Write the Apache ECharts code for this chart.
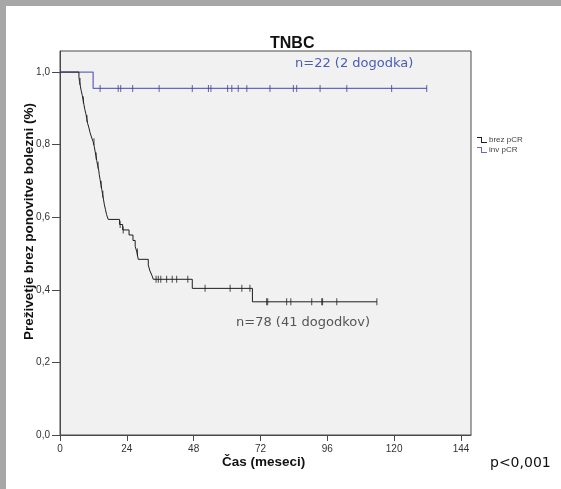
<!DOCTYPE html>
<html>
<head>
<meta charset="utf-8">
<script src="https://cdn.jsdelivr.net/npm/echarts@6/dist/echarts.min.js"></script>
<style>html,body{margin:0;padding:0;background:#fff;}#c{width:561px;height:489px;}</style>
</head>
<body>
<div id="c"></div>
<script>
// ---- data ----
const xTicks = [0, 24, 48, 72, 96, 120, 144];
const yTicks = [0, 0.2, 0.4, 0.6, 0.8, 1.0];
const seriesNames = ['brez pCR', 'inv pCR'];
// Kaplan-Meier steps [months, survival after event]
const brezSteps = [
  [0, 1.0], [6.8, 0.987], [7.0, 0.974], [7.3, 0.962], [7.6, 0.949], [8.0, 0.936], [8.3, 0.923],
  [8.6, 0.910], [8.9, 0.897], [9.3, 0.885], [9.6, 0.872], [9.9, 0.859], [10.4, 0.846],
  [10.8, 0.833], [11.3, 0.821], [11.9, 0.808], [12.3, 0.795], [12.6, 0.782], [12.9, 0.769],
  [13.2, 0.756], [13.5, 0.743], [13.9, 0.730], [14.1, 0.717], [14.4, 0.704], [14.7, 0.690],
  [15.0, 0.677], [15.3, 0.663], [15.6, 0.650], [15.9, 0.636], [16.3, 0.622], [16.7, 0.608],
  [17.3, 0.594], [21.4, 0.580], [22.5, 0.565], [24.8, 0.551], [26.2, 0.536], [27.0, 0.520],
  [27.6, 0.504], [28.1, 0.484], [31.7, 0.468], [32.3, 0.452], [33.0, 0.440], [33.5, 0.429],
  [47.5, 0.404], [69.1, 0.367], [113.8, 0.367]
];
const brezCensor = [
  [7.2, 0.974], [8.4, 0.923], [9.7, 0.872], [12.2, 0.808], [13.0, 0.769], [13.7, 0.743],
  [14.8, 0.690], [15.4, 0.663], [21.6, 0.580], [22.7, 0.565], [27.8, 0.504],
  [34.5, 0.429], [35.3, 0.429], [36.2, 0.429], [38.3, 0.429], [40.3, 0.429], [41.9, 0.429], [45.9, 0.429],
  [52.1, 0.404], [61.1, 0.404], [65.3, 0.404], [68.2, 0.404],
  [74.2, 0.367], [74.6, 0.367], [81.4, 0.367], [82.9, 0.367], [90.4, 0.367], [94.0, 0.367],
  [94.3, 0.367], [99.4, 0.367], [113.8, 0.367]
];
const invSteps = [[0, 1.0], [11.9, 0.955], [131.7, 0.955]];
const invCensor = [
  [14.4, 0.955], [20.9, 0.955], [21.8, 0.955], [26.1, 0.955], [35.6, 0.955], [47.5, 0.955],
  [53.3, 0.955], [54.2, 0.955], [60.2, 0.955], [61.7, 0.955], [64.0, 0.955], [67.1, 0.955],
  [75.4, 0.955], [83.8, 0.955], [85.0, 0.955], [93.4, 0.955], [103.0, 0.955], [119.1, 0.955],
  [131.7, 0.955]
];
const titleText = 'TNBC';
const xName = 'Čas (meseci)';
const yName = 'Preživetje brez ponovitve bolezni (%)';
const noteInv = 'n=22 (2 dogodka)';
const noteBrez = 'n=78 (41 dogodkov)';
const pText = 'p<0,001';

// ---- chart ----
const BLACK = '#1e1e1e', BLUE = '#6868c4';
const chart = echarts.init(document.getElementById('c'), null, {renderer: 'canvas'});
const stepIcon = 'path://M0,0H5V5H10V6H4V1H0Z';
chart.setOption({
  animation: false,
  backgroundColor: '#ffffff',
  title: {
    text: titleText, left: 265, top: 31,
    textStyle: {fontFamily: 'Liberation Sans, Arial', fontWeight: 'bold', fontSize: 16, color: '#111'}
  },
  grid: {
    left: 60, right: 90, top: 51, bottom: 54, show: true,
    backgroundColor: '#f1f1f1', borderColor: '#4a4a4a', borderWidth: 1
  },
  legend: {
    data: [{name: seriesNames[0], icon: stepIcon}, {name: seriesNames[1], icon: stepIcon}],
    orient: 'vertical', left: 477, top: 136, itemWidth: 10, itemHeight: 6, itemGap: 2, padding: 0,
    textStyle: {fontSize: 8, color: '#444', fontFamily: 'Liberation Sans, Arial', padding: [0, 0, 0, -3]},
    selectedMode: false
  },
  xAxis: {
    type: 'value', min: 0, max: 147.6,
    splitLine: {show: false},
    axisLine: {show: true, lineStyle: {color: '#4a4a4a'}},
    axisTick: {show: true, length: 6, customValues: xTicks, lineStyle: {color: '#4a4a4a'}},
    axisLabel: {customValues: xTicks, margin: 9, fontSize: 10, color: '#333', fontFamily: 'Liberation Sans, Arial',
      formatter: v => (xTicks.indexOf(v) >= 0 ? String(v) : '')}
  },
  yAxis: {
    type: 'value', min: 0, max: 1.058,
    splitLine: {show: false},
    axisLine: {show: true, lineStyle: {color: '#4a4a4a'}},
    axisTick: {show: true, length: 8, customValues: yTicks, lineStyle: {color: '#4a4a4a'}},
    axisLabel: {customValues: yTicks, margin: 10, fontSize: 10, color: '#333', fontFamily: 'Liberation Sans, Arial',
      formatter: v => v.toFixed(1).replace('.', ',')}
  },
  series: [
    {name: seriesNames[0], type: 'line', step: 'end', data: brezSteps, symbol: 'none', silent: true,
      itemStyle: {color: BLACK}, lineStyle: {color: BLACK, width: 1}, z: 3},
    {name: seriesNames[1], type: 'line', step: 'end', data: invSteps, symbol: 'none', silent: true,
      itemStyle: {color: BLUE}, lineStyle: {color: BLUE, width: 1.3}, z: 2},
    {name: 'brezCens', type: 'scatter', data: brezCensor, symbol: 'rect', symbolSize: [1, 7], silent: true,
      itemStyle: {color: BLACK}, z: 4},
    {name: 'invCens', type: 'scatter', data: invCensor, symbol: 'rect', symbolSize: [1, 7], silent: true,
      itemStyle: {color: '#3c3c8c'}, z: 4}
  ],
  graphic: [
    {type: 'rect', left: 0, top: 0, shape: {width: 561, height: 6}, style: {fill: '#a7a7a7'}, silent: true},
    {type: 'rect', left: 0, top: 0, shape: {width: 6, height: 489}, style: {fill: '#a7a7a7'}, silent: true},
    {type: 'text', left: 295, top: 57, silent: true,
      style: {text: noteInv, fill: '#4a5cb5', font: '13px "DejaVu Sans"'}},
    {type: 'text', left: 236, top: 316, silent: true,
      style: {text: noteBrez, fill: '#555555', font: '13px "DejaVu Sans"'}},
    {type: 'text', left: 490, top: 456, silent: true,
      style: {text: pText, fill: '#111', font: '14px "DejaVu Sans"'}},
    {type: 'text', left: 222, top: 455, silent: true,
      style: {text: xName, fill: '#111', font: 'bold 13.5px "Liberation Sans", Arial'}},
    {type: 'text', rotation: Math.PI / 2, x: 22, y: 340, silent: true,
      style: {text: yName, fill: '#111', font: 'bold 13.5px "Liberation Sans", Arial'}}
  ]
});
</script>
</body>
</html>
